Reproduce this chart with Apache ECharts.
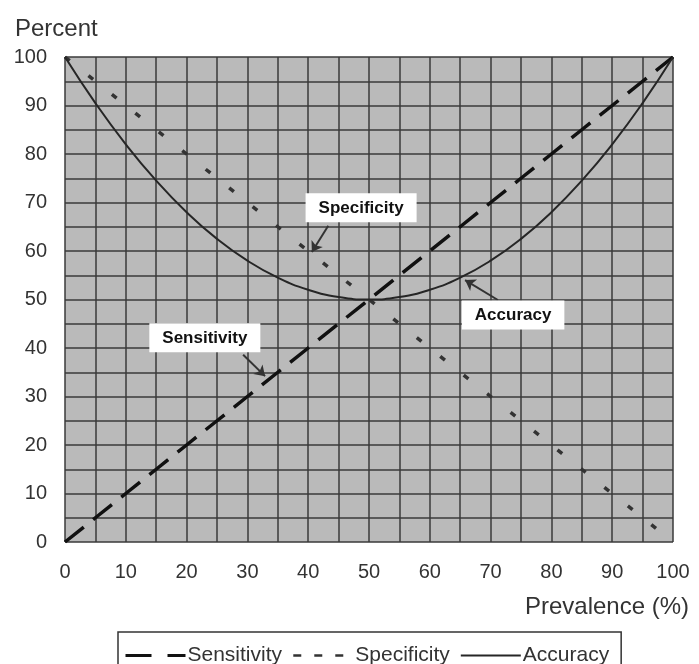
<!DOCTYPE html>
<html><head><meta charset="utf-8">
<script src="https://cdn.jsdelivr.net/npm/echarts@6/dist/echarts.min.js"></script>
<style>html,body{margin:0;padding:0;background:#fff}#c{width:699px;height:664px}</style>
</head><body><div id="c"></div>
<script>
const prevalence = [0,5,10,15,20,25,30,35,40,45,50,55,60,65,70,75,80,85,90,95,100];
const sensitivity = [0,5,10,15,20,25,30,35,40,45,50,55,60,65,70,75,80,85,90,95,100];
const specificity = [100,95,90,85,80,75,70,65,60,55,50,45,40,35,30,25,20,15,10,5,0];
const accuracy = [100,90.5,82,74.5,68,62.5,58,54.5,52,50.5,50,50.5,52,54.5,58,62.5,68,74.5,82,90.5,100];
const seriesNames = ['Sensitivity','Specificity','Accuracy'];
const annotations = [
  {name:'Specificity', box:[48.7,68.9], from:[43.3,65.2], to:[40.6,59.8]},
  {name:'Sensitivity', box:[23.0,42.1], from:[29.3,38.6], to:[32.9,34.2]},
  {name:'Accuracy', box:[73.7,46.8], from:[71.2,49.9], to:[65.8,54.0]}
];
const ink = '#262626';
const font = 'Liberation Sans, Arial, sans-serif';
const pair = (xs, ys) => xs.map((x,i)=>[x, ys[i]]);
const chart = echarts.init(document.getElementById('c'));
chart.setOption({
  animation:false,
  grid:{left:65, top:57, width:608, height:485, show:true, backgroundColor:'#bababa', borderWidth:0},
  title:[
    {text:'Percent', left:10, top:12, textStyle:{fontFamily:font, fontSize:24, fontWeight:'normal', color:'#333'}},
    {text:'Prevalence (%)', right:5, top:590, textStyle:{fontFamily:font, fontSize:24, fontWeight:'normal', color:'#333'}}
  ],
  legend:{
    top:632, left:118, itemWidth:60, itemHeight:14, itemGap:10,
    borderColor:'#333', borderWidth:1.5, padding:[13,12,12,6],
    itemStyle:{opacity:0},
    textStyle:{fontFamily:font, fontSize:21, color:'#333', padding:[0,0,0,-3]},
    data:[
      {name:'Sensitivity', lineStyle:{type:[26,16], width:3}},
      {name:'Specificity', lineStyle:{type:[8,13], width:2.5}},
      {name:'Accuracy', lineStyle:{type:'solid', width:2}}
    ]
  },
  xAxis:{type:'value', min:0, max:100, interval:5,
    axisLine:{show:false}, axisTick:{show:false},
    axisLabel:{margin:20, fontFamily:font, fontSize:20, color:'#333', formatter:v=> v%10===0? String(v):''},
    splitLine:{lineStyle:{color:'#3a3a3a', width:1.5}}},
  yAxis:{type:'value', min:0, max:100, interval:5,
    axisLine:{show:false}, axisTick:{show:false},
    axisLabel:{margin:18, fontFamily:font, fontSize:20, color:'#333', formatter:v=> v%10===0? String(v):''},
    splitLine:{lineStyle:{color:'#3a3a3a', width:1.5}}},
  series:[
    {name:'Sensitivity', type:'line', data:pair(prevalence, sensitivity), symbol:'none',
      lineStyle:{color:'#111', width:3.5, type:[24,12]}, itemStyle:{color:'#111'}},
    {name:'Specificity', type:'line', data:pair(prevalence, specificity), symbol:'none',
      lineStyle:{color:'#333', width:3.5, type:[6,24]}, itemStyle:{color:'#333'}},
    {name:'Accuracy', type:'line', data:pair(prevalence, accuracy), symbol:'none', smooth:0.5,
      lineStyle:{color:ink, width:2}, itemStyle:{color:ink},
      markLine:{silent:true, symbol:['none','arrow'], symbolSize:10,
        lineStyle:{color:'#333', width:2, type:'solid'}, label:{show:false},
        data: annotations.map(a=>[{coord:a.from},{coord:a.to}])},
      markPoint:{silent:true, symbol:'rect', symbolSize:1, itemStyle:{color:'rgba(0,0,0,0)'},
        label:{show:true, position:'inside', fontFamily:font, fontSize:17, fontWeight:'bold', color:'#111',
          backgroundColor:'#fff', padding:[6,13,6,13], formatter:p=>p.name},
        data: annotations.map(a=>({name:a.name, coord:a.box}))}
    }
  ]
});
</script></body></html>
